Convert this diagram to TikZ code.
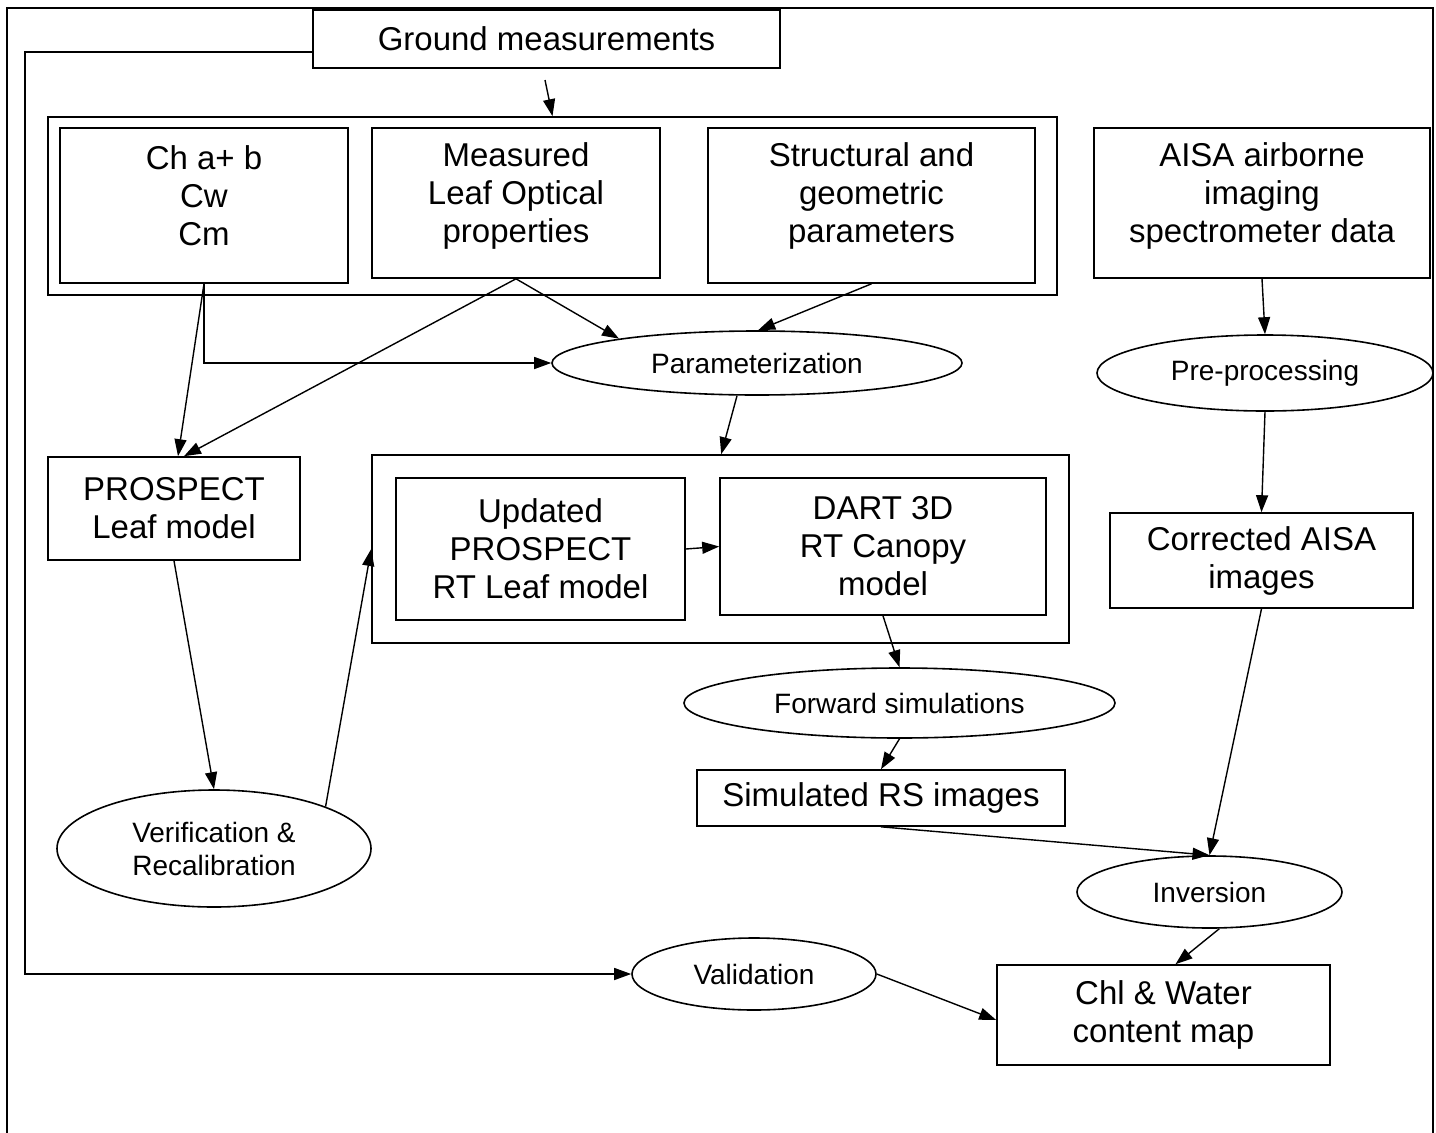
\documentclass[tikz,border=0pt]{standalone}
\usepackage{fontspec}
\setmainfont{Liberation Sans}
\usetikzlibrary{shapes.geometric,arrows.meta}
\begin{document}
\begin{tikzpicture}[x=1pt,y=-1pt, line width=1.6pt,
 bx/.style={draw, rectangle, inner sep=0pt, align=center, font=\fontsize{33}{38}\selectfont},
 grp/.style={draw, rectangle, inner sep=0pt},
 el/.style={draw, ellipse, inner sep=0pt, align=center, font=\fontsize{28}{33}\selectfont},
 tx/.style={align=center, inner sep=0pt, font=\fontsize{33}{38}\selectfont},
 arr/.style={-{Triangle[length=17pt,width=12pt]}, line width=1.4pt}]
\useasboundingbox (0,0) rectangle (1436,1133);
\fill[white] (0,0) rectangle (1436,1133);
\draw (7,1133) -- (7,8) -- (1433,8) -- (1433,1133);

\node[bx, minimum width=467pt, minimum height=58pt] (gm) at (546.5,39) {Ground measurements};

\node[grp, minimum width=1009pt, minimum height=178pt] (g1) at (552.5,206) {};
\node[bx, minimum width=288pt, minimum height=155pt] (ch) at (204,205.5) {};
\node[tx] (cht) at (204,196) {Ch a+ b\\Cw\\Cm};
\node[bx, minimum width=288pt, minimum height=150pt] (meas) at (516,203) {};
\node[tx] (meast) at (516,196) {Measured\\Leaf Optical\\properties};
\node[bx, minimum width=327pt, minimum height=155pt] (struct) at (871.5,205.5) {};
\node[tx] (structt) at (871.5,196) {Structural and\\geometric\\parameters};
\node[bx, minimum width=336pt, minimum height=150pt] (aisa) at (1262,203) {};
\node[tx] (aisat) at (1262,196) {AISA airborne\\imaging\\spectrometer data};

\node[el, minimum width=410pt, minimum height=64pt] (param) at (757,363) {Parameterization};
\node[el, minimum width=336pt, minimum height=76pt] (pre) at (1265,373) {Pre-processing};

\node[bx, minimum width=252pt, minimum height=103pt] (pros) at (174,508.5) {PROSPECT\\Leaf model};
\node[grp, minimum width=697pt, minimum height=188pt] (g2) at (720.5,549) {};
\node[bx, minimum width=289pt, minimum height=142pt] (upd) at (540.5,549) {Updated\\PROSPECT\\RT Leaf model};
\node[bx, minimum width=326pt, minimum height=137pt] (dart) at (883,546.5) {DART 3D\\RT Canopy\\model};
\node[bx, minimum width=303pt, minimum height=95pt] (corr) at (1261.5,560.5) {Corrected AISA\\images};

\node[el, minimum width=431pt, minimum height=70pt] (fwd) at (899.5,703) {Forward simulations};
\node[bx, minimum width=368pt, minimum height=56pt] (sim) at (881,798) {Simulated RS images};
\node[el, minimum width=314pt, minimum height=117pt] (ver) at (214,848.5) {Verification \&\\Recalibration};
\node[el, minimum width=265pt, minimum height=72pt] (inv) at (1209.5,892) {Inversion};
\node[el, minimum width=244pt, minimum height=72pt] (val) at (754,974) {Validation};
\node[bx, minimum width=333pt, minimum height=100pt] (chl) at (1163.5,1015) {Chl \& Water\\content map};

\coordinate (gs) at (545,80);
\coordinate (lp) at (25,974);

\draw[arr] (gs) -- (g1.north);
\draw[arr] (ch.south) -- ([xshift=4pt]pros.north);
\draw[arr] (ch.south) |- (param.west);
\draw[arr] (meas.south) -- ([xshift=10pt]pros.north);
\draw[arr] (meas.south) -- (param.170);
\draw[arr] (struct.south) -- (param.88);
\draw[arr] (aisa.south) -- (pre.north);
\draw[arr] (pre.south) -- (corr.north);
\draw[arr] ([xshift=-20pt]param.south) -- ([xshift=350pt]g2.north west);
\draw[arr] (pros.south) -- (ver.north);
\draw[arr] (ver.north east) -- (g2.west);
\draw[arr] (upd.east) -- (dart.west);
\draw[arr] (dart.south) -- (fwd.north);
\draw[arr] (fwd.south) -- (sim.north);
\draw[arr] (sim.south) -- (inv.north);
\draw[arr] (corr.south) -- (inv.north);
\draw[arr] (inv.285) -- ([xshift=12pt]chl.north);
\draw[arr] (val.east) -- ([yshift=-5pt]chl.west);
\draw[arr] ([yshift=-13pt]gm.west) -| (lp) -- (val.west);
\end{tikzpicture}
\end{document}
